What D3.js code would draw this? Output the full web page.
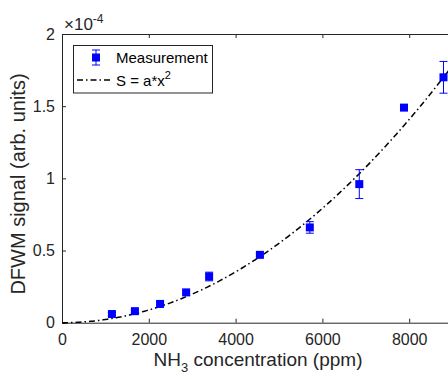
<!DOCTYPE html>
<html><head><meta charset="utf-8">
<script src="https://cdn.jsdelivr.net/npm/d3@7"></script>
<style>body{margin:0;background:#fff;}svg{display:block;font-family:"Liberation Sans",Arial,sans-serif;}</style>
</head><body>
<svg id="c" width="448" height="379"></svg>
<script>
const concentrations = [1150, 1680, 2260, 2860, 3390, 4560, 5710, 6850, 7880, 8790];
const signals = [0.06, 0.08, 0.13, 0.21, 0.32, 0.47, 0.66, 0.96, 1.49, 1.70];
const errors = [0.01, 0.01, 0.01, 0.01, 0.03, 0.01, 0.04, 0.10, 0.02, 0.11];
const fitCoef = 2.2e-8; // S = a*x^2 (in units of 1e-4)
const xTicks = [0, 2000, 4000, 6000, 8000];
const yTicks = [0, 0.5, 1, 1.5, 2];
const yTickLabels = ["0", "0.5", "1", "1.5", "2"];

const svg = d3.select("#c");
const L = 62, T = 34, B = 322.7;
const x = d3.scaleLinear().domain([0, 9000]).range([L, L + 4.5 * 86.8]);
const y = d3.scaleLinear().domain([0, 2]).range([B, T]);
const axisColor = "#262626";

// axes
const xa = svg.append("g").attr("transform", `translate(0,${B})`)
  .call(d3.axisBottom(x).tickValues(xTicks).tickSize(-4).tickPadding(11).tickFormat(d3.format("d")));
const xt = svg.append("g").attr("transform", `translate(0,${T})`)
  .call(d3.axisTop(x).tickValues(xTicks).tickSize(-4).tickFormat(""));
const ya = svg.append("g").attr("transform", `translate(${L},0)`)
  .call(d3.axisLeft(y).tickValues(yTicks).tickSize(-4).tickPadding(7).tickFormat((d,i)=>yTickLabels[i]));
[xa, xt, ya].forEach(g => {
  g.select(".domain").attr("stroke", axisColor).attr("stroke-width", 1);
  g.selectAll(".tick line").attr("stroke", axisColor);
  g.selectAll("text").attr("fill", axisColor).attr("font-size", 16).attr("font-family", "Liberation Sans, Arial, sans-serif");
});

// exponent label
svg.append("text").attr("x", 64).attr("y", 30).attr("fill", axisColor)
  .attr("font-size", 17).html('×10<tspan dy="-7" font-size="12">-4</tspan>');

// axis labels
svg.append("text").attr("x", 258).attr("y", 366).attr("text-anchor", "middle").attr("fill", axisColor)
  .attr("font-size", 19).html('NH<tspan dy="6" font-size="13">3</tspan><tspan dy="-6"> concentration (ppm)</tspan>');
svg.append("text").attr("transform", "translate(25,184) rotate(-90)").attr("text-anchor", "middle")
  .attr("fill", axisColor).attr("font-size", 20).text("DFWM signal (arb. units)");

// fit line
const fitX = d3.range(0, 9001, 50);
svg.append("path").datum(fitX)
  .attr("d", d3.line().x(d => x(d)).y(d => y(fitCoef * d * d)))
  .attr("fill", "none").attr("stroke", "#000").attr("stroke-width", 1.5)
  .attr("stroke-dasharray", "6,3,1.5,3");

// error bars
const blue = "#0000ff";
const g = svg.append("g");
concentrations.forEach((c, i) => {
  const cx = x(c), y1 = y(signals[i] + errors[i]), y0 = y(signals[i] - errors[i]);
  g.append("line").attr("x1", cx).attr("x2", cx).attr("y1", y0).attr("y2", y1).attr("stroke", blue).attr("stroke-width", 1);
  [y0, y1].forEach(yy => g.append("line").attr("x1", cx - 4).attr("x2", cx + 4).attr("y1", yy).attr("y2", yy).attr("stroke", blue).attr("stroke-width", 1));
  g.append("rect").attr("x", cx - 4).attr("y", y(signals[i]) - 4).attr("width", 8).attr("height", 8).attr("fill", blue);
});

// legend
const lg = svg.append("g");
lg.append("rect").attr("x", 73.5).attr("y", 45.5).attr("width", 139).attr("height", 47.5)
  .attr("fill", "#fff").attr("stroke", axisColor).attr("stroke-width", 1);
lg.append("line").attr("x1", 96).attr("x2", 96).attr("y1", 50).attr("y2", 65).attr("stroke", blue);
[50, 65].forEach(yy => lg.append("line").attr("x1", 92).attr("x2", 100).attr("y1", yy).attr("y2", yy).attr("stroke", blue));
lg.append("rect").attr("x", 92).attr("y", 53.5).attr("width", 8).attr("height", 8).attr("fill", blue);
lg.append("text").attr("x", 116).attr("y", 63).attr("font-size", 15).attr("fill", "#000").text("Measurement");
lg.append("line").attr("x1", 77).attr("x2", 113).attr("y1", 80).attr("y2", 80)
  .attr("stroke", "#000").attr("stroke-width", 1.5).attr("stroke-dasharray", "6,3,1.5,3");
lg.append("text").attr("x", 116).attr("y", 86).attr("font-size", 15).attr("fill", "#000")
  .html('S = a*x<tspan dy="-7" font-size="11">2</tspan>');
</script>
</body></html>
